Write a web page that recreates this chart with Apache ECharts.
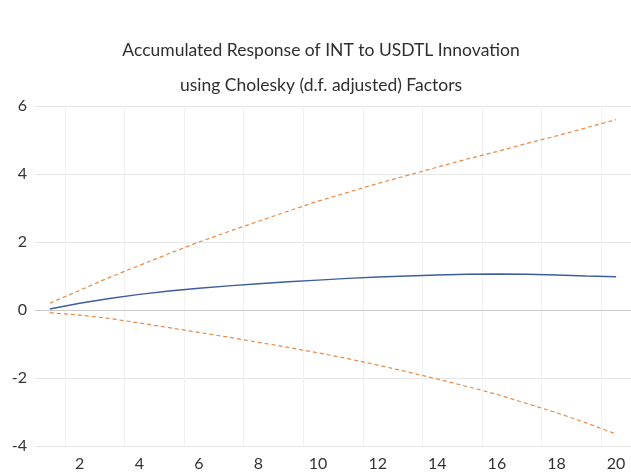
<!DOCTYPE html>
<html>
<head>
<meta charset="utf-8">
<title>Accumulated Response of INT to USDTL Innovation</title>
<script src="https://cdn.jsdelivr.net/npm/echarts@6/dist/echarts.min.js"></script>
<style>
  html, body { margin: 0; padding: 0; background: #ffffff; }
  #chart { width: 631px; height: 473px; }
</style>
</head>
<body>
<div id="chart"></div>
<script>
// Response horizon (periods)
const periods = ['1','2','3','4','5','6','7','8','9','10','11','12','13','14','15','16','17','18','19','20'];

// Accumulated response of INT to a USDTL shock
const response = [0.03, 0.20, 0.34, 0.46, 0.56, 0.64, 0.71, 0.77, 0.83, 0.88, 0.93, 0.97, 1.00, 1.03, 1.05, 1.06, 1.05, 1.03, 1.00, 0.98];

// ± 2 S.E. bands
const upperBand = [0.20, 0.58, 0.96, 1.31, 1.66, 2.00, 2.31, 2.61, 2.91, 3.20, 3.46, 3.72, 3.96, 4.20, 4.44, 4.66, 4.90, 5.12, 5.36, 5.60];
const lowerBand = [-0.08, -0.15, -0.25, -0.38, -0.52, -0.66, -0.80, -0.95, -1.10, -1.26, -1.43, -1.62, -1.82, -2.03, -2.25, -2.48, -2.75, -3.02, -3.32, -3.65];

// Value axis ticks
const yTicks = { min: -4, max: 6, step: 2 };

const chartTitle = 'Accumulated Response of INT to USDTL Innovation\nusing Cholesky (d.f. adjusted) Factors';

const FONT = 'Lato, "Open Sans", "DejaVu Sans", sans-serif';
const bandColor = '#e58a48';
const responseColor = '#3f5d9c';

const chart = echarts.init(document.getElementById('chart'), null, { renderer: 'canvas' });

chart.setOption({
  animation: false,
  backgroundColor: '#ffffff',
  title: {
    text: chartTitle,
    left: 316,
    textAlign: 'center',
    top: 28,
    textStyle: {
      fontFamily: FONT,
      fontSize: 17.5,
      fontWeight: 'normal',
      color: '#2f2f2f',
      lineHeight: 35
    }
  },
  grid: {
    left: 35,
    top: 106,
    width: 600,
    height: 340,
    containLabel: false
  },
  xAxis: {
    type: 'category',
    data: periods,
    boundaryGap: true,
    axisLine: { show: false },
    axisTick: { show: false },
    axisLabel: {
      interval: (i) => i % 2 === 1,
      margin: 10,
      fontFamily: FONT,
      fontSize: 16,
      color: '#333333'
    },
    splitLine: {
      show: true,
      interval: (i) => i % 2 === 1,
      lineStyle: { color: '#f1f1f1', width: 1 }
    }
  },
  yAxis: {
    type: 'value',
    min: yTicks.min,
    max: yTicks.max,
    interval: yTicks.step,
    axisLine: { show: false },
    axisTick: { show: false },
    axisLabel: {
      margin: 8,
      fontFamily: FONT,
      fontSize: 16,
      color: '#333333'
    },
    splitLine: {
      show: true,
      lineStyle: { color: '#e6e6e6', width: 1 }
    }
  },
  series: [
    {
      name: 'Response',
      type: 'line',
      data: response,
      symbol: 'none',
      z: 4,
      lineStyle: { color: responseColor, width: 1.4 },
      markLine: {
        silent: true,
        symbol: 'none',
        label: { show: false },
        lineStyle: { color: '#c9c9c9', width: 1, type: 'solid' },
        data: [{ yAxis: 0 }],
        z: 1
      }
    },
    {
      name: 'Upper',
      type: 'line',
      data: upperBand,
      symbol: 'none',
      z: 3,
      lineStyle: { color: bandColor, width: 1.2, type: [4, 3] }
    },
    {
      name: 'Lower',
      type: 'line',
      data: lowerBand,
      symbol: 'none',
      z: 3,
      lineStyle: { color: bandColor, width: 1.2, type: [4, 3] }
    }
  ]
});
</script>
</body>
</html>
